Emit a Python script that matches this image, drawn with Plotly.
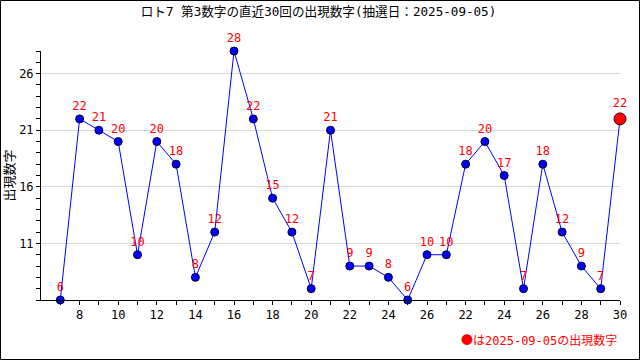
import plotly.graph_objects as go

title_text = "ロト7 第3数字の直近30回の出現数字(抽選日：2025-09-05)"
y_title = "出現数字"
legend_mark = "●"
legend_note = "は2025-09-05の出現数字"

values = [6, 22, 21, 20, 10, 20, 18, 8, 12, 28, 22, 15, 12, 7, 21,
          9, 9, 8, 6, 10, 10, 18, 20, 17, 7, 18, 12, 9, 7, 22]
# labels shown under every second draw position
tick_labels = ["8", "10", "12", "14", "16", "18", "20", "22", "24", "26",
               "22", "24", "26", "28", "30"]
y_ticks = [11, 16, 21, 26]

n = len(values)
xs = list(range(1, n + 1))
ticktext = []
it = iter(tick_labels)
for i in xs:
    ticktext.append(next(it) if i % 2 == 0 else "")

W, H = 640, 360
ml, mr, mt, mb = 41, 20, 51, 60
pw, ph = W - ml - mr, H - mt - mb

num_font = "DejaVu Sans Mono, monospace"
mix_font = "DejaVu Sans Mono, Noto Sans CJK JP, monospace"
jp_font = "Noto Sans CJK JP, sans-serif"

fig = go.Figure()
fig.add_trace(go.Scatter(
    x=xs, y=values, mode="lines",
    line=dict(color="#0000ff", width=1), hoverinfo="skip", cliponaxis=False))
fig.add_trace(go.Scatter(
    x=xs[:-1], y=values[:-1], mode="markers+text",
    text=[str(v) for v in values[:-1]], textposition="top center",
    textfont=dict(color="#ff0000", size=12, family=num_font),
    marker=dict(color="#0000ff", size=8, line=dict(color="#000033", width=1)),
    cliponaxis=False))
fig.add_trace(go.Scatter(
    x=[xs[-1]], y=[values[-1]], mode="markers+text",
    text=[str(values[-1])], textposition="top center",
    textfont=dict(color="#ff0000", size=12, family=num_font),
    marker=dict(color="#ff0000", size=12, line=dict(color="#330000", width=1)),
    cliponaxis=False))

fig.update_layout(
    width=W, height=H, showlegend=False,
    paper_bgcolor="white", plot_bgcolor="white",
    margin=dict(l=ml, r=mr, t=mt, b=mb, pad=0),
    title=dict(text=title_text, x=(143 + 494) / 2 / W, xanchor="center", y=1 - 12 / H,
               yanchor="middle", font=dict(family=mix_font, size=12.6, color="#000000")),
    font=dict(family=num_font, size=12, color="#000000"),
)
fig.update_xaxes(
    range=[0, n], tickmode="array", tickvals=xs, ticktext=ticktext,
    ticks="outside", ticklen=4, tickcolor="#000000", showline=True,
    linecolor="#000000", linewidth=1, showgrid=False, zeroline=False,
    tickfont=dict(family=num_font, size=12, color="#000000"))
fig.update_yaxes(
    range=[6, 28], tickmode="array", tickvals=y_ticks,
    ticks="outside", ticklen=4, tickcolor="#000000", showline=True,
    linecolor="#000000", linewidth=1, showgrid=True, gridcolor="#d8d8d8",
    zeroline=False, tickfont=dict(family=num_font, size=12, color="#000000"),
    minor=dict(ticks="outside", ticklen=4, tickcolor="#000000", dtick=1, tick0=6,
               showgrid=False))

fig.add_annotation(text=y_title, textangle=-90, xref="paper", yref="paper",
                   x=(8 - ml) / pw, y=0.5, xanchor="center", yanchor="middle",
                   showarrow=False, font=dict(family=jp_font, size=13, color="#000000"))
fig.add_annotation(
    text=f"<span style='font-family:Noto Sans CJK JP'>{legend_mark}</span>{legend_note}",
    xref="paper", yref="paper",
    x=(619 - ml) / pw, y=(H - mb - 339) / ph,
    xanchor="right", yanchor="middle", showarrow=False,
    font=dict(family=mix_font, size=12, color="#ff0000"))
fig.add_shape(type="rect", xref="paper", yref="paper",
              x0=(0.5 - ml) / pw, x1=(W - 0.5 - ml) / pw,
              y0=(H - mb - (H - 0.5)) / ph, y1=(H - mb - 0.5) / ph,
              line=dict(color="#000000", width=1), layer="above")

fig.write_html("out.html", config={"displayModeBar": False, "staticPlot": True},
               post_script="document.body.style.margin='0';document.body.style.overflow='hidden';")
